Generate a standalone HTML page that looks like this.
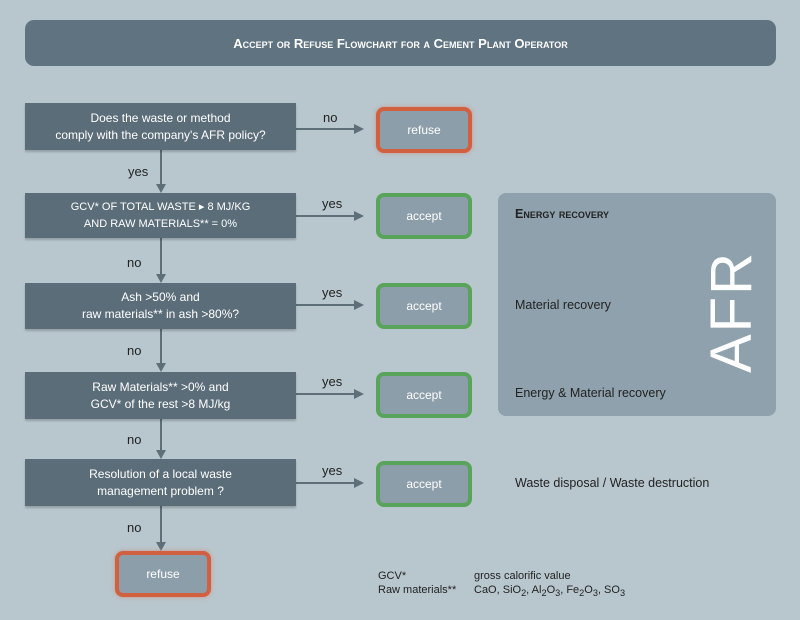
<!DOCTYPE html>
<html><head><style>
body{margin:0}
#c{position:relative;width:800px;height:620px;background:#b8c7ce;font-family:"Liberation Sans",sans-serif;overflow:hidden}
.a{position:absolute}
.t{background:#5f7380;border-radius:9px;left:25px;top:20px;width:751px;height:46px;color:#fff;font-weight:bold;font-size:13px;display:flex;align-items:center;justify-content:center;font-variant:small-caps}
.d{position:absolute;left:25px;width:271px;background:#5b6d79;color:#fff;font-size:12px;display:flex;align-items:center;justify-content:center;text-align:center;line-height:17px;box-shadow:0 2px 2px rgba(0,0,0,.2)}
.b{position:absolute;width:88px;height:38px;background:#8c9ea9;border:4px solid #58a45a;border-radius:8px;color:#fff;font-size:12px;display:flex;align-items:center;justify-content:center}
.r{border-color:#d0603f;box-shadow:0 0 4px rgba(220,100,70,.5)}
.l{position:absolute;font-size:13px;color:#222}
.k{position:absolute;font-size:12.5px;color:#222}
</style></head><body><div id="c">
<div class="a t">Accept or Refuse Flowchart for a Cement Plant Operator</div>
<div class="a" style="left:498px;top:193px;width:278px;height:223px;background:#8ea1ac;border-radius:8px"></div>
<div class="a" style="left:670px;top:292px;width:124px;height:40px;color:#fff;font-size:58px;line-height:40px;transform:rotate(-90deg);text-align:center;letter-spacing:2px">AFR</div>
<svg class="a" style="left:0;top:0" width="800" height="620">
<g stroke="#5e6f7a" stroke-width="2" fill="#5e6f7a">
<line x1="161" y1="150" x2="161" y2="186"/><polygon points="156,184 166,184 161,193" stroke="none"/>
<line x1="161" y1="238" x2="161" y2="276"/><polygon points="156,274 166,274 161,283" stroke="none"/>
<line x1="161" y1="329" x2="161" y2="365"/><polygon points="156,363 166,363 161,372" stroke="none"/>
<line x1="161" y1="419" x2="161" y2="452"/><polygon points="156,450 166,450 161,459" stroke="none"/>
<line x1="161" y1="506" x2="161" y2="544"/><polygon points="156,542 166,542 161,551" stroke="none"/>
<line x1="296" y1="129" x2="356" y2="129"/><polygon points="354,124 354,134 364,129" stroke="none"/>
<line x1="296" y1="216" x2="356" y2="216"/><polygon points="354,211 354,221 364,216" stroke="none"/>
<line x1="296" y1="305" x2="356" y2="305"/><polygon points="354,300 354,310 364,305" stroke="none"/>
<line x1="296" y1="394" x2="356" y2="394"/><polygon points="354,389 354,399 364,394" stroke="none"/>
<line x1="296" y1="483" x2="356" y2="483"/><polygon points="354,478 354,488 364,483" stroke="none"/>
</g></svg>
<div class="d" style="top:103px;height:47px">Does the waste or method<br>comply with the company's AFR policy?</div>
<div class="d" style="top:193px;height:45px;font-size:11px">GCV* OF TOTAL WASTE ▸ 8 MJ/KG<br>AND RAW MATERIALS** = 0%</div>
<div class="d" style="top:283px;height:46px">Ash &gt;50% and<br>raw materials** in ash &gt;80%?</div>
<div class="d" style="top:372px;height:47px">Raw Materials** &gt;0% and<br>GCV* of the rest &gt;8 MJ/kg</div>
<div class="d" style="top:459px;height:47px">Resolution of a local waste<br>management problem ?</div>
<div class="b r" style="left:376px;top:107px">refuse</div>
<div class="b" style="left:376px;top:193px">accept</div>
<div class="b" style="left:376px;top:283px">accept</div>
<div class="b" style="left:376px;top:372px">accept</div>
<div class="b" style="left:376px;top:461px">accept</div>
<div class="b r" style="left:115px;top:551px">refuse</div>
<div class="l" style="left:323px;top:110px">no</div>
<div class="l" style="left:128px;top:164px">yes</div>
<div class="l" style="left:322px;top:196px">yes</div>
<div class="l" style="left:127px;top:255px">no</div>
<div class="l" style="left:322px;top:285px">yes</div>
<div class="l" style="left:127px;top:343px">no</div>
<div class="l" style="left:322px;top:374px">yes</div>
<div class="l" style="left:127px;top:432px">no</div>
<div class="l" style="left:322px;top:463px">yes</div>
<div class="l" style="left:127px;top:520px">no</div>
<div class="k" style="left:515px;top:207px;font-size:12.5px;font-weight:bold;font-variant:small-caps">Energy recovery</div>
<div class="k" style="left:515px;top:298px">Material recovery</div>
<div class="k" style="left:515px;top:386px">Energy &amp; Material recovery</div>
<div class="k" style="left:515px;top:476px">Waste disposal / Waste destruction</div>
<div class="k" style="left:378px;top:570px;font-size:11px">GCV*</div>
<div class="k" style="left:474px;top:570px;font-size:11px">gross calorific value</div>
<div class="k" style="left:378px;top:584px;font-size:11px">Raw materials**</div>
<div class="k" style="left:474px;top:584px;font-size:11px">CaO, SiO<sub>2</sub>, Al<sub>2</sub>O<sub>3</sub>, Fe<sub>2</sub>O<sub>3</sub>, SO<sub>3</sub></div>
</div></body></html>
